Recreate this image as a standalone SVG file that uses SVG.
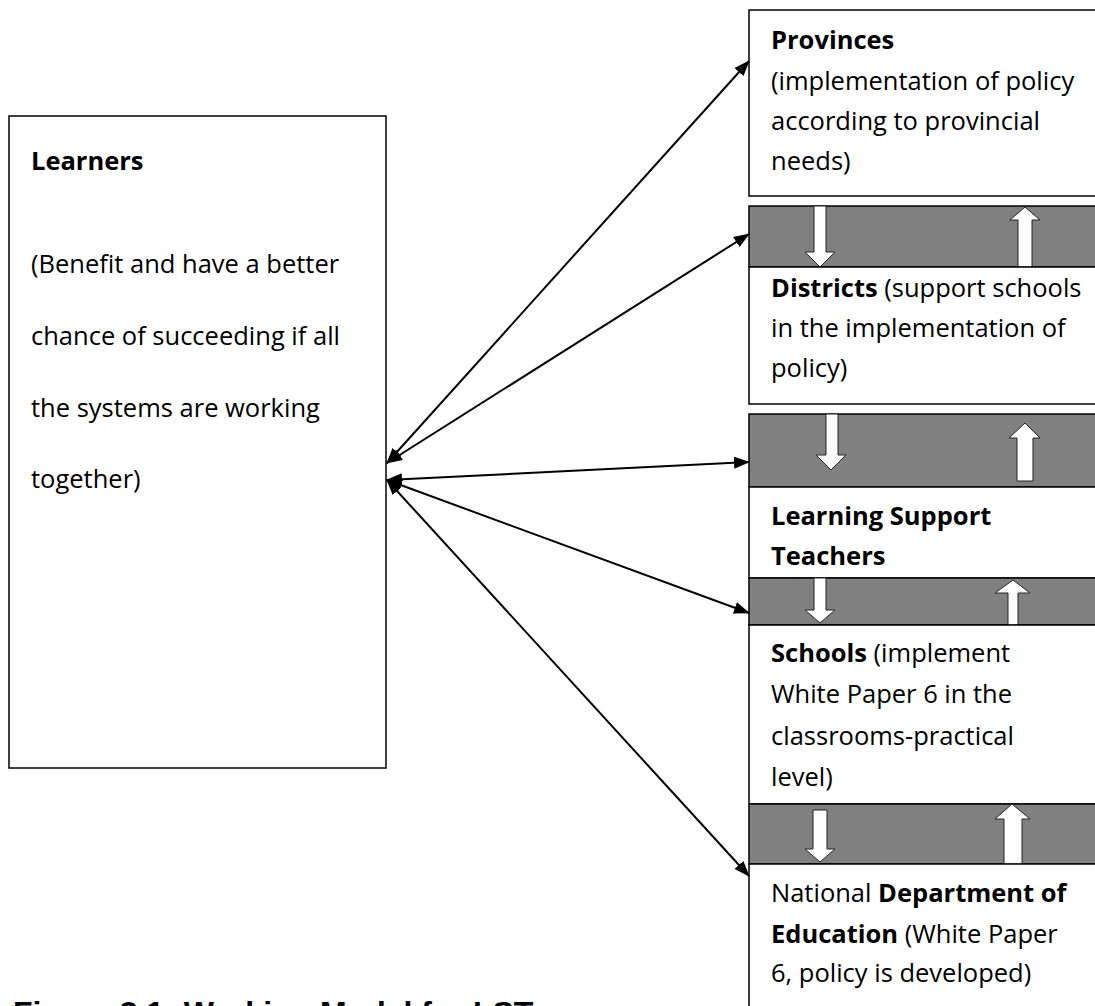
<svg xmlns="http://www.w3.org/2000/svg" width="1095" height="1006" viewBox="0 0 1095 1006">
<defs>
<style>
.box{fill:#fff;stroke:#000;stroke-width:1.5}
.band{fill:#808080;stroke:#000;stroke-width:1.5}
.blk{fill:#fff;stroke:#222;stroke-width:1}
.t{font-family:"Open Sans","Noto Sans",sans-serif;font-size:25.5px;fill:#000}
.b{font-weight:bold}
.con{stroke:#000;stroke-width:2;fill:none;marker-start:url(#ah);marker-end:url(#ah)}
.cap{font-family:"Liberation Sans",Arial,sans-serif;font-weight:bold;font-size:32px;fill:#000}
</style>
<marker id="ah" viewBox="0 0 16 12" refX="15" refY="6" markerWidth="16" markerHeight="12" markerUnits="userSpaceOnUse" orient="auto-start-reverse">
<path d="M0,0 L16,6 L0,12 z" fill="#000"/>
</marker>
</defs>

<g id="learners">
<rect class="box" x="9" y="116" width="377" height="652"/>
<text class="t" x="31" y="170"><tspan class="b">Learners</tspan></text>
<text class="t" x="31" y="273">(Benefit and have a better</text>
<text class="t" x="31" y="345">chance of succeeding if all</text>
<text class="t" x="31" y="417">the systems are working</text>
<text class="t" x="31" y="488">together)</text>
</g>

<g id="provinces">
<rect class="box" x="749" y="10" width="360" height="186"/>
<text class="t" x="771" y="49"><tspan class="b">Provinces</tspan></text>
<text class="t" x="771" y="90">(implementation of policy</text>
<text class="t" x="771" y="130">according to provincial</text>
<text class="t" x="771" y="170">needs)</text>
</g>

<g id="band1">
<rect class="band" x="749" y="206" width="360" height="61"/>
<path class="blk" d="M814,206 L826,206 L826,252 L835,252 L820,267 L805,252 L814,252 z"/>
<path class="blk" d="M1025,207 L1040,220 L1032,220 L1032,267 L1018,267 L1018,220 L1010,220 z"/>
</g>

<g id="districts">
<rect class="box" x="749" y="267" width="360" height="137"/>
<text class="t" x="771" y="297"><tspan class="b">Districts</tspan> (support schools</text>
<text class="t" x="771" y="337">in the implementation of</text>
<text class="t" x="771" y="377">policy)</text>
</g>

<g id="band2">
<rect class="band" x="749" y="414" width="360" height="73"/>
<path class="blk" d="M826,414 L838,414 L838,455 L846,455 L831,470 L816,455 L826,455 z"/>
<path class="blk" d="M1025,423 L1040,438 L1033,438 L1033,481 L1017,481 L1017,438 L1009,438 z"/>
</g>

<g id="lst">
<rect class="box" x="749" y="487" width="360" height="91"/>
<text class="t b" x="771" y="525">Learning Support</text>
<text class="t b" x="771" y="565">Teachers</text>
</g>

<g id="band3">
<rect class="band" x="749" y="578" width="360" height="47"/>
<path class="blk" d="M814,578 L826,578 L826,610 L835,610 L820,623 L805,610 L814,610 z"/>
<path class="blk" d="M1013,580 L1030,593 L1018,593 L1018,625 L1008,625 L1008,593 L995,593 z"/>
</g>

<g id="schools">
<rect class="box" x="749" y="625" width="360" height="179"/>
<text class="t" x="771" y="662"><tspan class="b">Schools</tspan> (implement</text>
<text class="t" x="771" y="703">White Paper 6 in the</text>
<text class="t" x="771" y="745">classrooms-practical</text>
<text class="t" x="771" y="786">level)</text>
</g>

<g id="band4">
<rect class="band" x="749" y="804" width="360" height="60"/>
<path class="blk" d="M813,810 L827,810 L827,849 L835,849 L820,862 L805,849 L813,849 z"/>
<path class="blk" d="M1012,804 L1030,819 L1022,819 L1022,864 L1004,864 L1004,819 L995,819 z"/>
</g>

<g id="ndoe">
<rect class="box" x="749" y="864" width="360" height="160"/>
<text class="t" x="771" y="902">National <tspan class="b">Department of</tspan></text>
<text class="t" x="771" y="943"><tspan class="b">Education</tspan> (White Paper</text>
<text class="t" x="771" y="982">6, policy is developed)</text>
</g>

<g id="connectors">
<line class="con" x1="387" y1="463" x2="749" y2="61"/>
<line class="con" x1="387" y1="463" x2="749" y2="234"/>
<line class="con" x1="387" y1="480" x2="749" y2="462"/>
<line class="con" x1="387" y1="480" x2="749" y2="613"/>
<line class="con" x1="387" y1="480" x2="749" y2="876"/>
</g>

<g id="caption">
<text class="cap" x="13" y="1024">Figure 3.1: Working Model for LST</text>
</g>
</svg>
